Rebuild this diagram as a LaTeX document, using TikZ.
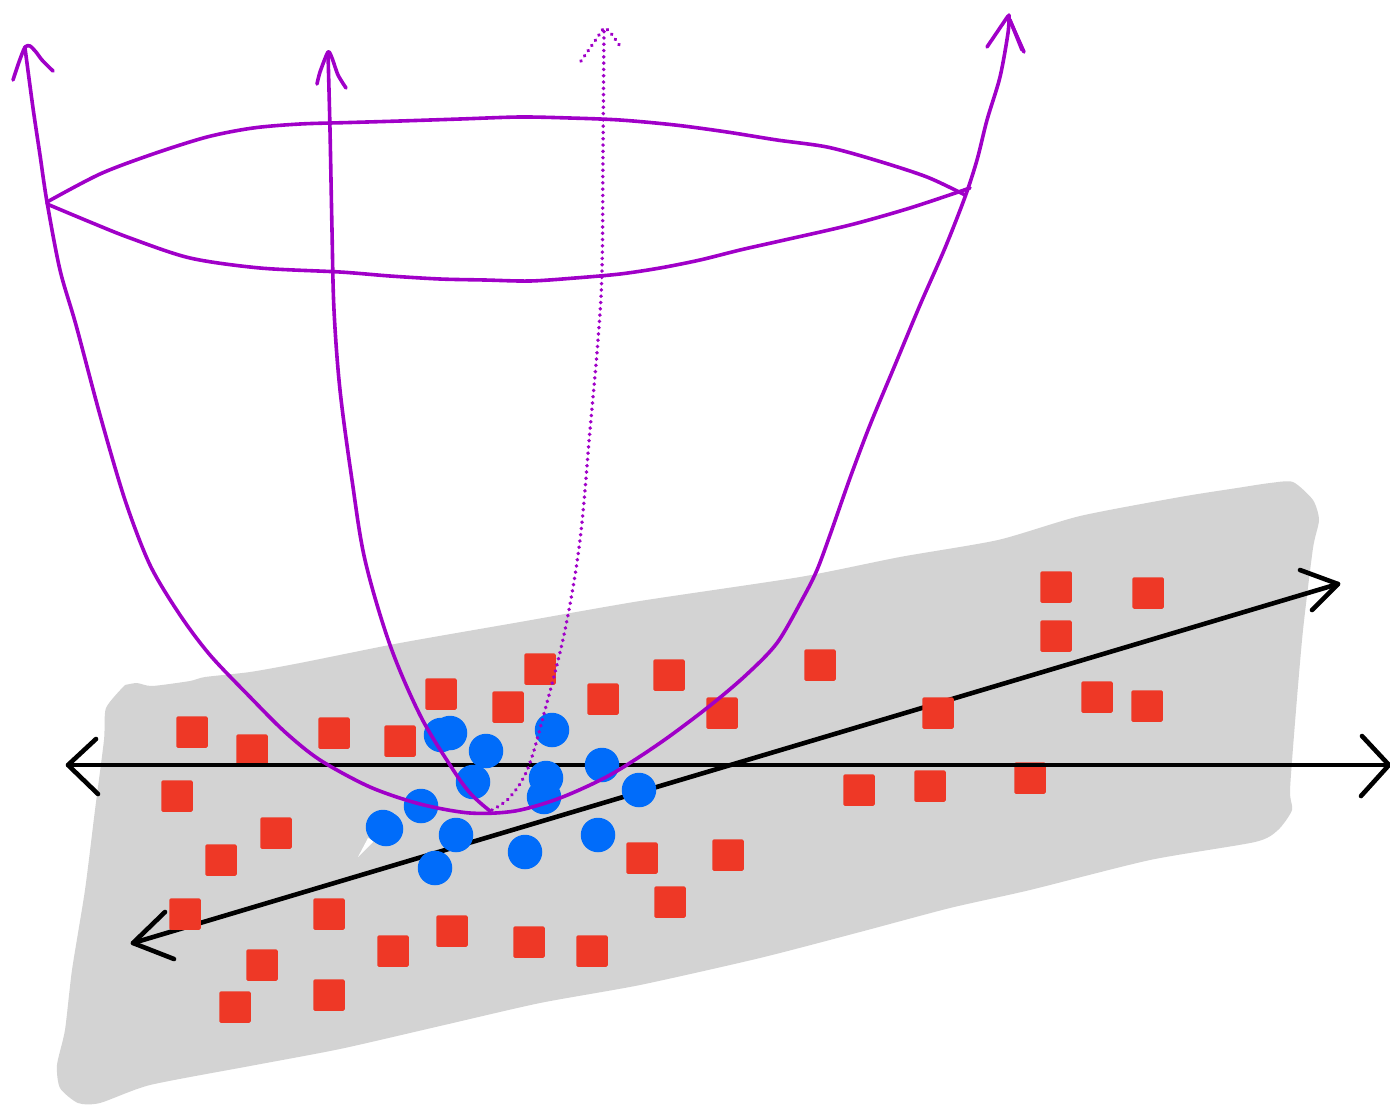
\documentclass[tikz,border=0pt]{standalone}
\definecolor{grayplane}{RGB}{211,211,211}
\definecolor{redsq}{RGB}{238,56,38}
\definecolor{bluedot}{RGB}{0,108,250}
\definecolor{purp}{RGB}{160,0,200}
\tikzset{
 sq/.style={fill=redsq,draw=none,rounded corners=1.5pt,minimum size=31.5pt,inner sep=0pt,shape=rectangle},
 dot/.style={fill=bluedot,draw=none,circle,minimum size=34.5pt,inner sep=0pt},
 pline/.style={draw=purp,line width=3.6pt,line cap=round,line join=round},
 pdot/.style={draw=purp,line width=3.8pt,line cap=round,dash pattern=on 0.1pt off 6.2pt},
 bline/.style={draw=black,line width=4.6pt,line cap=round,line join=round},
}
\begin{document}
\begin{tikzpicture}[x=1pt,y=-1pt]
\useasboundingbox (0,0) rectangle (1390,1104);
% plane
\fill[grayplane] plot[smooth,tension=0.4] coordinates {
(125,685)(137,683)(152,686)(190,681)(205,677)(250,672)(300,663)(400,643)(520,622)(640,601)(800,577)(900,557)(998,540)(1080,516)(1180,497)(1237,488)(1270,483)(1293,482)(1313,500)(1319,520)(1313,548)(1303,630)(1296,710)(1290,790)(1292,810)(1278,830)(1255,842)(1150,860)(1030,890)(950,908)(860,932)(760,958)(640,985)(540,1003)(440,1026)(340,1049)(250,1066)(150,1085)(100,1103)(78,1103)(60,1088)(57,1065)(65,1030)(72,970)(85,890)(95,810)(104,740)(106,708)(125,685)};
\fill[white] (358,857) -- (368,838) -- (374,841) -- cycle;
% diagonal axis
\coordinate (dL) at (133,943); \coordinate (dR) at (1338,584);
\draw[bline] (dL) -- (dR);
\draw[bline] (165,912) -- (dL) -- (174,959);
\draw[bline] (1300,570) -- (dR) -- (1312,610);
% squares
\foreach \n/\x/\y in {a/192/732,b/252/750,c/334/733,d/400/741,e/441/694,f/540/669,g/508/707,h/603/699,i/669/675,j/722/713,k/820/665,l/938/713,m/1056/587,n/1148/593,o/1056/636,p/1097/697,q/1147/706,r/177/796,s/276/833,t/221/860,u/185/914,v/329/914,w/262/965,x/329/995,y/235/1007,z/393/951,aa/452/931,ab/529/942,ac/592/951,ad/642/858,ae/728/855,af/670/902,ag/859/790,ah/930/786,ai/1030/778}
 \node[sq] (s\n) at (\x,\y) {};
% horizontal axis
\coordinate (hL) at (68,765); \coordinate (hR) at (1389,765);
\draw[bline,line width=4.2pt] (hL) -- (hR);
\draw[bline] (96,739) -- (hL) -- (98,794);
\draw[bline] (1362,736) -- (hR) -- (1361,796);
% dots
\foreach \n/\x/\y in {a/441/735,b/450/733,c/486/751,d/552/730,e/473/782,f/546/778,g/544/797,h/602/765,i/639/790,j/421/806,k/383/827,k2/386/829,l/456/835,m/435/868,n/525/852,o/598/835}
 \node[dot] (d\n) at (\x,\y) {};
% purple dotted
\draw[pdot] plot[smooth,tension=0.6] coordinates {(492,810)(510,797)(528,768)(545,710)(565,630)(580,540)(590,430)(598,340)(602,270)(603,150)(604,30)};
\draw[pdot] plot[smooth,tension=0.3] coordinates {(581,61)(597,38)(604,28)(610,32)(620,46)};
% purple curves
\draw[pline] plot[smooth,tension=0.5] coordinates {(25,48)(33,108)(40,155)(47,202)(60,270)(76,325)(100,415)(125,500)(150,565)(180,615)(210,655)(250,697)(285,732)(320,760)(370,787)(420,804)(470,813)(515,811)(560,798)(610,775)(660,743)(707,708)(745,676)(777,643)(803,598)(817,570)(830,535)(850,478)(870,425)(895,365)(920,305)(945,248)(965,197)(977,160)(987,120)(1000,77)(1008,33)(1009,15)};
\draw[pline] plot[smooth,tension=0.55] coordinates {(328,53)(330,130)(332,230)(334,310)(340,390)(352,480)(365,560)(390,645)(420,715)(450,765)(470,793)(490,811)};
\draw[pline] plot[smooth,tension=0.5] coordinates {(47,202)(100,174)(153,154)(207,137)(253,128)(300,124)(350,122.5)(400,121)(460,119)(520,117)(570,118)(620,120)(675,125)(727,132)(777,140)(827,147)(875,160)(927,177)(965,195)};
\draw[pline] plot[smooth,tension=0.5] coordinates {(47,204)(90,222)(130,238)(190,258)(260,268)(340,272)(390,276)(440,279)(485,280)(530,281)(575,278)(620,274)(660,268)(700,260)(740,250)(780,241)(850,225)(910,208)(970,188)};
% arrowheads
\draw[pline] plot[smooth,tension=0.4] coordinates {(13,80)(19,62)(25,47)(30,46)(36,52)(42,60)(53,71)};
\draw[pline] plot[smooth,tension=0.4] coordinates {(317,84)(320,72)(328,52)(332,58)(338,75)(346,88)};
\draw[pline] (987,47) -- (1008,16) -- (1024,52);
\draw[pline] (1010,20) -- (1022,50);
\end{tikzpicture}
\end{document}
